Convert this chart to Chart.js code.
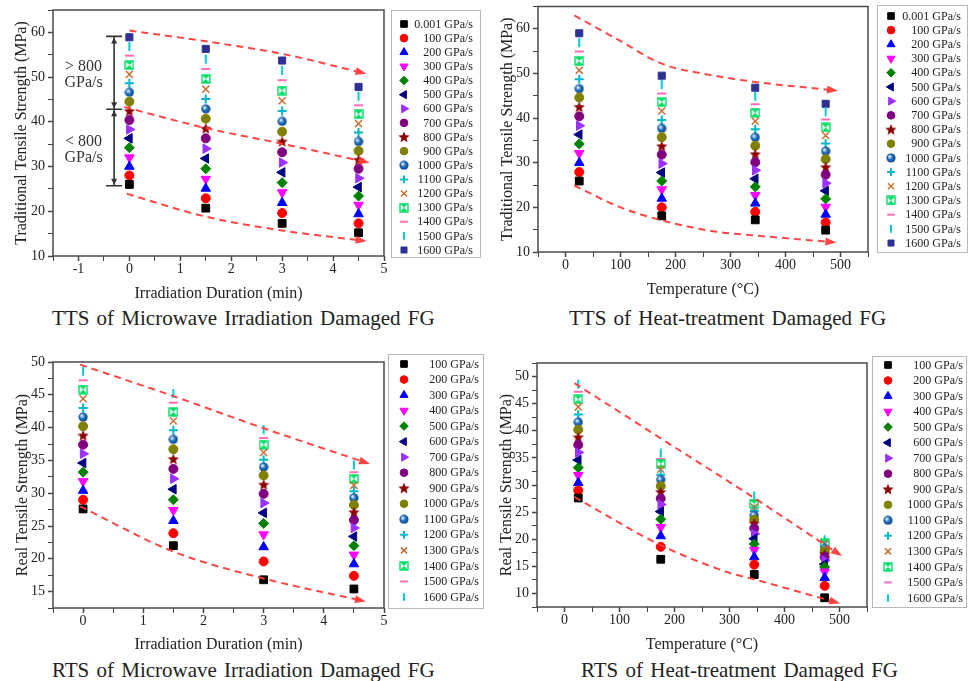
<!DOCTYPE html>
<html>
<head>
<meta charset="utf-8">
<title>Tensile strength of damaged FG</title>
<script src="https://cdn.jsdelivr.net/npm/chart.js@4.4.1/dist/chart.umd.min.js"></script>
<style>
  html, body { margin: 0; padding: 0; background: #fff; }
  #page { position: relative; width: 968px; height: 681px; overflow: hidden; }
  #page canvas { position: absolute; }
  .caption {
    position: absolute;
    font-family: "Liberation Serif", "Times New Roman", serif;
    font-size: 21px;
    color: #222;
    white-space: nowrap;
    word-spacing: 2px;
    line-height: 1;
    transform: translateY(-50%);
  }
</style>
</head>
<body>
<div id="page">
  <canvas id="ttsMw" width="484" height="303" style="left:0;top:0;width:484px;height:303px"></canvas>
  <canvas id="ttsHeat" width="484" height="299" style="left:484px;top:0;width:484px;height:299px"></canvas>
  <canvas id="rtsMw" width="484" height="314" style="left:0;top:340px;width:484px;height:314px"></canvas>
  <canvas id="rtsHeat" width="484" height="314" style="left:484px;top:340px;width:484px;height:314px"></canvas>

  <div class="caption" style="left:52px;top:318px">TTS of Microwave Irradiation Damaged FG</div>
  <div class="caption" style="left:569px;top:318px">TTS of Heat-treatment Damaged FG</div>
  <div class="caption" style="left:52px;top:670px">RTS of Microwave Irradiation Damaged FG</div>
  <div class="caption" style="left:581px;top:670px">RTS of Heat-treatment Damaged FG</div>
</div>

<script>
// ---- data ----
const rateLabelsTop = ['0.001 GPa/s', '100 GPa/s', '200 GPa/s', '300 GPa/s', '400 GPa/s', '500 GPa/s',
  '600 GPa/s', '700 GPa/s', '800 GPa/s', '900 GPa/s', '1000 GPa/s', '1100 GPa/s', '1200 GPa/s',
  '1300 GPa/s', '1400 GPa/s', '1500 GPa/s', '1600 GPa/s'];
const rateLabelsBottom = ['100 GPa/s', '200 GPa/s', '300 GPa/s', '400 GPa/s', '500 GPa/s', '600 GPa/s',
  '700 GPa/s', '800 GPa/s', '900 GPa/s', '1000 GPa/s', '1100 GPa/s', '1200 GPa/s', '1300 GPa/s',
  '1400 GPa/s', '1500 GPa/s', '1600 GPa/s'];

const durationX = [0, 1.5, 3, 4.5];        // min
const temperatureX = [25, 175, 345, 473];  // °C

// one row per strain rate, one value per column
const ttsMicrowave = [
  [26.0, 20.7, 17.3, 15.2], [28.0, 22.9, 19.6, 17.3], [30.0, 25.1, 21.9, 19.4], [32.0, 27.2, 24.2, 21.4],
  [34.2, 29.5, 26.4, 23.4], [36.3, 31.8, 28.7, 25.4], [38.3, 34.0, 30.9, 27.4], [40.4, 36.3, 33.2, 29.5],
  [42.4, 38.5, 35.6, 31.5], [44.5, 40.7, 37.8, 33.5], [46.6, 42.9, 40.1, 35.6], [48.6, 45.1, 42.4, 37.6],
  [50.6, 47.3, 44.7, 39.6], [52.7, 49.6, 47.0, 41.7], [54.8, 51.8, 49.3, 43.7], [56.8, 54.0, 51.5, 45.7],
  [58.9, 56.3, 53.7, 47.8]
];
const ttsHeat = [
  [25.9, 18.1, 17.2, 14.9], [27.9, 20.0, 19.0, 16.6], [30.0, 22.0, 20.9, 18.4], [32.1, 24.0, 22.7, 20.1],
  [34.2, 25.9, 24.6, 21.9], [36.3, 27.8, 26.4, 23.7], [38.3, 29.8, 28.3, 25.4], [40.4, 31.8, 30.1, 27.3],
  [42.5, 33.7, 31.9, 29.0], [44.6, 35.7, 33.8, 30.8], [46.6, 37.7, 35.7, 32.6], [48.7, 39.6, 37.5, 34.3],
  [50.7, 41.6, 39.3, 36.1], [52.8, 43.6, 41.2, 37.9], [54.9, 45.5, 43.1, 39.7], [56.9, 47.5, 44.9, 41.4],
  [59.0, 49.5, 46.8, 43.2]
];
const rtsMicrowave = [
  [27.6, 22.0, 16.8, 15.4], [29.0, 23.9, 19.6, 17.4], [30.4, 25.8, 21.8, 19.2], [31.8, 27.4, 23.7, 20.6],
  [33.2, 29.0, 25.4, 22.0], [34.6, 30.6, 27.0, 23.4], [36.0, 32.2, 28.5, 24.7], [37.4, 33.7, 29.9, 25.9],
  [38.8, 35.2, 31.3, 27.1], [40.2, 36.7, 32.7, 28.2], [41.6, 38.2, 34.0, 29.3], [43.0, 39.6, 35.1, 30.3],
  [44.4, 41.0, 36.2, 31.2], [45.8, 42.4, 37.4, 32.2], [47.2, 43.8, 38.4, 33.2], [48.6, 45.2, 39.7, 34.3]
];
const rtsHeat = [
  [27.6, 16.3, 13.5, 9.2], [29.0, 18.6, 15.3, 11.4], [30.4, 20.6, 16.7, 12.9], [31.8, 22.2, 18.0, 14.0],
  [33.2, 23.7, 19.1, 14.9], [34.6, 25.1, 20.1, 15.4], [36.0, 26.4, 21.0, 16.1], [37.4, 27.5, 22.0, 16.7],
  [38.8, 28.7, 22.9, 17.2], [40.2, 29.8, 23.6, 17.8], [41.6, 31.0, 24.4, 18.3], [43.0, 31.9, 25.2, 18.7],
  [44.4, 32.9, 25.9, 19.1], [45.8, 33.9, 26.5, 19.3], [47.2, 34.8, 27.2, 19.6], [48.6, 35.9, 28.0, 19.9]
];

// dashed trend guides [x, y]
const ttsMwUpper = [[0, 60.4], [1.5, 58.0], [3, 55.2], [4.6, 50.9]];
const ttsMwMiddle = [[-0.1, 43.3], [1.5, 38.6], [3, 35.1], [4.66, 31.0]];
const ttsMwLower = [[-0.05, 23.9], [1.5, 18.8], [3, 15.7], [4.6, 13.4]];
const ttsHeatUpper = [[16, 63.0], [98, 57.4], [175, 52.2], [266, 49.6], [345, 48.1], [490, 46.2]];
const ttsHeatLower = [[16, 24.9], [98, 20.1], [175, 17.1], [266, 14.7], [345, 13.7], [487, 12.2]];
const rtsMwUpper = [[-0.05, 49.6], [1.5, 44.8], [3, 39.9], [4.72, 34.6]];
const rtsMwLower = [[-0.05, 28.0], [1.5, 21.1], [3, 17.0], [4.65, 13.6]];
const rtsHeatUpper = [[18, 48.8], [175, 38.6], [345, 27.6], [500, 17.2]];
const rtsHeatLower = [[18, 27.8], [175, 18.9], [300, 13.8], [345, 12.6], [496, 8.3]];

// range bar drawn in the first panel
const rangeBarX = -0.3;
const rangeBarY = [59.1, 42.8, 25.7];
const rangeNotes = [
  { x: -0.9, y: [52.4, 48.8], lines: ['> 800', 'GPa/s'] },
  { x: -0.9, y: [35.6, 32.0], lines: ['< 800', 'GPa/s'] }
];

const SERIF = '"Liberation Serif", "Times New Roman", serif';

// ---- custom marker images ----
function makeStar(color) {
  const c = document.createElement('canvas');
  c.width = 12; c.height = 12;
  const g = c.getContext('2d');
  g.fillStyle = color;
  g.beginPath();
  for (let i = 0; i < 10; i++) {
    const r = i % 2 ? 2.6 : 6;
    const a = -Math.PI / 2 + i * Math.PI / 5;
    g.lineTo(6 + r * Math.cos(a), 6.4 + r * Math.sin(a));
  }
  g.closePath();
  g.fill();
  return c;
}

function makeSphere(color) {
  const c = document.createElement('canvas');
  c.width = 10; c.height = 10;
  const g = c.getContext('2d');
  const grad = g.createRadialGradient(3.5, 3.5, 0.5, 5, 5, 5);
  grad.addColorStop(0, '#e8f2ff');
  grad.addColorStop(0.45, color);
  grad.addColorStop(1, '#0d3f80');
  g.fillStyle = grad;
  g.beginPath();
  g.arc(5, 5, 4.6, 0, Math.PI * 2);
  g.fill();
  return c;
}

function makeHourglass(color) {
  const c = document.createElement('canvas');
  c.width = 10; c.height = 10;
  const g = c.getContext('2d');
  g.fillStyle = color;
  g.strokeStyle = color;
  g.lineWidth = 1.4;
  g.strokeRect(1, 1, 8, 8);
  g.beginPath();
  g.moveTo(1, 1); g.lineTo(9, 1); g.lineTo(5, 5); g.closePath();
  g.moveTo(1, 9); g.lineTo(9, 9); g.lineTo(5, 5); g.closePath();
  g.fill();
  return c;
}

const markers = [
  { color: '#000000', style: 'rect', r: 5.5 },
  { color: '#ff0000', style: 'circle', r: 4.5 },
  { color: '#0000ff', style: 'triangle', r: 5.5 },
  { color: '#ff00ff', style: 'triangle', rot: 180, r: 5.5 },
  { color: '#008000', style: 'rectRot', r: 5 },
  { color: '#000080', style: 'triangle', rot: -90, r: 5.5 },
  { color: '#9b30ff', style: 'triangle', rot: 90, r: 5.5 },
  { color: '#800080', style: 'circle', r: 4.5 },
  { color: '#8b0000', style: makeStar('#8b0000'), r: 5 },
  { color: '#808000', style: 'circle', r: 4.5 },
  { color: '#1f6fbf', style: makeSphere('#1f6fbf'), r: 5 },
  { color: '#00b8c8', style: 'cross', r: 4.5, bw: 2 },
  { color: '#c87137', style: 'crossRot', r: 5, bw: 1.5 },
  { color: '#00dd66', style: makeHourglass('#00dd66'), r: 5 },
  { color: '#ff6eb4', style: 'line', r: 4.5, bw: 2 },
  { color: '#00ccdd', style: 'line', rot: 90, r: 4.5, bw: 2 },
  { color: '#2e3192', style: 'rect', r: 5 }
];

// ---- plugins ----
const framePlugin = {
  id: 'frame',
  beforeDatasetsDraw(chart) {
    const { ctx, chartArea: a } = chart;
    ctx.save();
    ctx.strokeStyle = '#4a4a4a';
    ctx.lineWidth = 1.5;
    ctx.strokeRect(a.left, a.top, a.right - a.left, a.bottom - a.top);
    ctx.restore();
  }
};

const arrowPlugin = {
  id: 'arrowHeads',
  afterDatasetsDraw(chart) {
    const ctx = chart.ctx;
    chart.data.datasets.forEach((ds, i) => {
      if (!ds.arrow) return;
      const pts = chart.getDatasetMeta(i).data;
      const a = pts[pts.length - 1];
      const b = pts[pts.length - 2];
      let dx = a.x - b.x, dy = a.y - b.y;
      if (a.cp1x !== undefined && Math.hypot(a.x - a.cp1x, a.y - a.cp1y) > 0.5) {
        dx = a.x - a.cp1x; dy = a.y - a.cp1y;
      }
      ctx.save();
      ctx.translate(a.x, a.y);
      ctx.rotate(Math.atan2(dy, dx));
      ctx.fillStyle = ds.borderColor;
      ctx.beginPath();
      ctx.moveTo(3, 0);
      ctx.lineTo(-8, -4);
      ctx.lineTo(-8, 4);
      ctx.closePath();
      ctx.fill();
      ctx.restore();
    });
  }
};

function legendPlugin(cfg) {
  return {
    id: 'boxLegend',
    afterDraw(chart) {
      const ctx = chart.ctx;
      const L = cfg.legend;
      ctx.save();
      ctx.strokeStyle = '#b8b8b8';
      ctx.lineWidth = 1;
      ctx.strokeRect(L.x0 + 0.5, L.y0 + 0.5, L.x1 - L.x0, L.y1 - L.y0);
      ctx.font = '12px ' + SERIF;
      ctx.textAlign = 'right';
      ctx.textBaseline = 'middle';
      cfg.labels.forEach((lab, i) => {
        const m = markers[i];
        const y = L.first + i * L.step;
        ctx.fillStyle = m.color;
        ctx.strokeStyle = m.color;
        ctx.lineWidth = m.bw || 1;
        Chart.helpers.drawPoint(ctx, {
          pointStyle: m.style, rotation: m.rot || 0, radius: m.r * 0.85, borderWidth: m.bw || 1
        }, L.mx, y);
        ctx.fillStyle = '#222';
        ctx.fillText(lab, L.tx, y + 0.5);
      });
      ctx.restore();
    }
  };
}

const rangeBarPlugin = {
  id: 'rangeBar',
  afterDatasetsDraw(chart) {
    const { ctx, scales: { x, y } } = chart;
    const px = x.getPixelForValue(rangeBarX);
    const ys = rangeBarY.map(v => y.getPixelForValue(v));
    ctx.save();
    ctx.strokeStyle = '#333';
    ctx.fillStyle = '#333';
    ctx.lineWidth = 1.6;
    ctx.beginPath();
    ctx.moveTo(px, ys[0]);
    ctx.lineTo(px, ys[2]);
    ys.forEach(v => { ctx.moveTo(px - 8, v); ctx.lineTo(px + 8, v); });
    ctx.stroke();
    const head = (yTip, dir) => {
      ctx.beginPath();
      ctx.moveTo(px, yTip);
      ctx.lineTo(px - 3, yTip + dir * 6);
      ctx.lineTo(px + 3, yTip + dir * 6);
      ctx.closePath();
      ctx.fill();
    };
    head(ys[0] + 1, 1);
    head(ys[1] - 1, -1);
    head(ys[1] + 1, 1);
    head(ys[2] - 1, -1);
    ctx.font = '16px ' + SERIF;
    ctx.textAlign = 'center';
    ctx.textBaseline = 'middle';
    rangeNotes.forEach(n => {
      n.lines.forEach((t, k) => ctx.fillText(t, x.getPixelForValue(n.x), y.getPixelForValue(n.y[k])));
    });
    ctx.restore();
  }
};

// ---- chart builder ----
function isMajor(v, m) {
  return Math.abs(v / m - Math.round(v / m)) < 1e-6;
}

function axisOptions(a, horizontal, size) {
  return {
    type: 'linear',
    min: a.min,
    max: a.max,
    ticks: {
      stepSize: a.step,
      autoSkip: false,
      maxRotation: 0,
      padding: horizontal ? 0 : 3,
      color: '#222',
      font: { family: SERIF, size: 14 },
      callback: v => isMajor(v, a.major) ? String(v) : ''
    },
    grid: {
      drawOnChartArea: false,
      drawTicks: true,
      tickLength: 5,
      tickColor: '#444',
      tickWidth: c => (c.tick && isMajor(c.tick.value, a.major)) ? 1.5 : 1
    },
    border: { display: false },
    title: { display: true, text: a.title, color: '#222', font: { family: SERIF, size: 16 }, padding: 0 },
    afterFit: s => {
      if (horizontal) {
        s.height = size; s.paddingLeft = 0; s.paddingRight = 0;
      } else {
        s.width = size; s.paddingTop = 0; s.paddingBottom = 0;
      }
    }
  };
}

function buildChart(id, cfg) {
  const datasets = cfg.rows.map((row, i) => {
    const m = markers[i];
    return {
      label: cfg.labels[i],
      data: cfg.xs.map((x, j) => ({ x: x, y: row[j] })),
      showLine: false,
      pointStyle: m.style,
      pointRadius: m.r,
      pointRotation: m.rot || 0,
      pointBackgroundColor: m.color,
      pointBorderColor: m.color,
      pointBorderWidth: m.bw || 1,
      order: 1
    };
  });
  cfg.guides.forEach(g => datasets.push({
    label: '',
    data: g.map(p => ({ x: p[0], y: p[1] })),
    showLine: true,
    borderColor: 'rgba(255, 60, 60, 0.95)',
    borderWidth: 2,
    borderDash: [7, 5],
    pointRadius: 0,
    cubicInterpolationMode: 'monotone',
    arrow: true,
    order: 0
  }));

  return new Chart(document.getElementById(id), {
    type: 'scatter',
    data: { datasets: datasets },
    options: {
      responsive: false,
      animation: false,
      events: [],
      layout: { padding: { left: cfg.pad.left, top: cfg.pad.top, right: cfg.pad.right, bottom: 0 } },
      plugins: { legend: { display: false }, tooltip: { enabled: false } },
      scales: {
        x: axisOptions(cfg.x, true, cfg.xHeight),
        y: axisOptions(cfg.y, false, cfg.yWidth)
      }
    },
    plugins: [framePlugin, arrowPlugin, legendPlugin(cfg)].concat(cfg.extra || [])
  });
}

buildChart('ttsMw', {
  xs: durationX, rows: ttsMicrowave, labels: rateLabelsTop,
  x: { min: -1.5, max: 5, step: 0.5, major: 1, title: 'Irradiation Duration (min)' },
  y: { min: 10, max: 65, step: 5, major: 10, title: 'Traditional Tensile Strength (MPa)' },
  guides: [ttsMwUpper, ttsMwMiddle, ttsMwLower],
  pad: { left: 12, top: 10, right: 100 }, yWidth: 41, xHeight: 47,
  legend: { x0: 391, y0: 10, x1: 480, y1: 257, first: 24, step: 14.125, mx: 404, tx: 473 },
  extra: [rangeBarPlugin]
});

buildChart('ttsHeat', {
  xs: temperatureX, rows: ttsHeat, labels: rateLabelsTop,
  x: { min: -50, max: 550, step: 50, major: 100, title: 'Temperature (°C)' },
  y: { min: 10, max: 65, step: 5, major: 10, title: 'Traditional Tensile Strength (MPa)' },
  guides: [ttsHeatUpper, ttsHeatLower],
  pad: { left: 14, top: 5, right: 100 }, yWidth: 40, xHeight: 47,
  legend: { x0: 393, y0: 5, x1: 483, y1: 252, first: 16, step: 14.19, mx: 407, tx: 477 }
});

buildChart('rtsMw', {
  xs: durationX, rows: rtsMicrowave, labels: rateLabelsBottom,
  x: { min: -0.5, max: 5, step: 0.5, major: 1, title: 'Irradiation Duration (min)' },
  y: { min: 12.5, max: 50, step: 2.5, major: 5, title: 'Real Tensile Strength (MPa)' },
  guides: [rtsMwUpper, rtsMwLower],
  pad: { left: 13, top: 22, right: 100 }, yWidth: 40, xHeight: 46,
  legend: { x0: 388, y0: 14, x1: 483, y1: 268, first: 24, step: 15.53, mx: 404, tx: 479 }
});

buildChart('rtsHeat', {
  xs: temperatureX, rows: rtsHeat, labels: rateLabelsBottom,
  x: { min: -50, max: 550, step: 50, major: 100, title: 'Temperature (°C)' },
  y: { min: 7.5, max: 52.5, step: 2.5, major: 5, title: 'Real Tensile Strength (MPa)' },
  guides: [rtsHeatUpper, rtsHeatLower],
  pad: { left: 13, top: 23, right: 101 }, yWidth: 40, xHeight: 47,
  legend: { x0: 388, y0: 16, x1: 482, y1: 267, first: 25, step: 15.53, mx: 404, tx: 479 }
});
</script>
</body>
</html>
